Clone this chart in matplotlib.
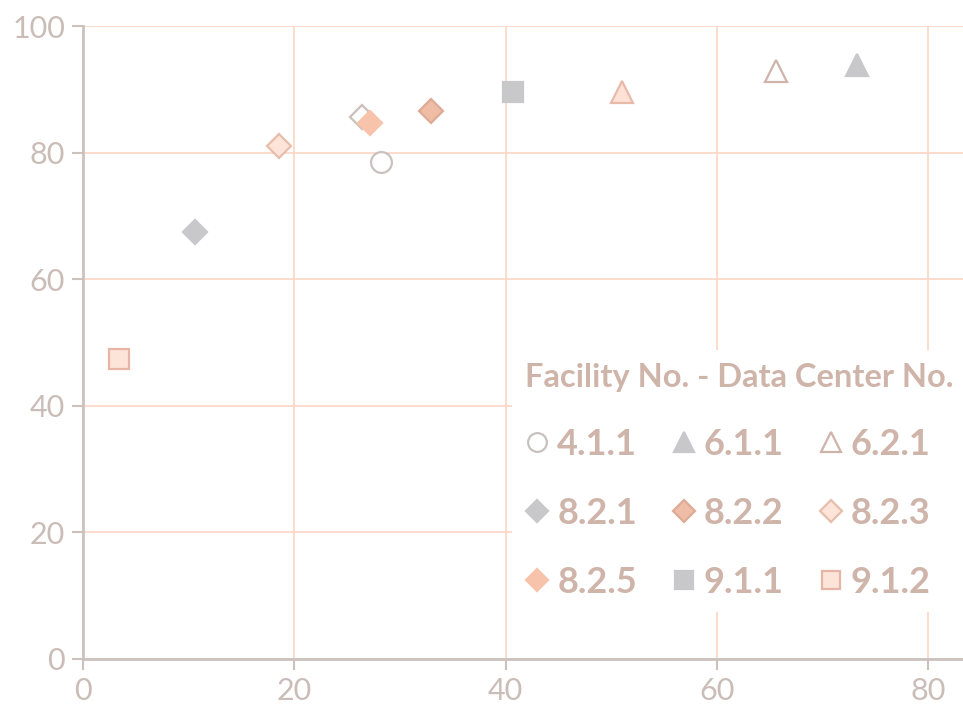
import numpy as np
import matplotlib.pyplot as plt

# facility / data center points (x = %, y = %)
labels = ["4.1.1", "6.1.1", "6.2.1", "6.2.2", "8.2.1", "8.2.2",
          "8.2.3", "8.2.4", "8.2.5", "9.1.1", "9.1.2"]
x_vals = [28.2, 73.3, 65.6, 51.0, 10.6, 32.9, 18.6, 26.4, 27.2, 40.7, 3.4]
y_vals = [78.5, 93.9, 92.9, 89.6, 67.5, 86.6, 81.0, 85.6, 84.6, 89.6, 47.4]

x_ticks = [0, 20, 40, 60, 80]
y_ticks = [0, 20, 40, 60, 80, 100]

# marker, face, edge, size
styles = {
    "4.1.1": ("o", "white", "#c9c1be", 15),
    "6.1.1": ("^", "#c8c8ca", "#c8c8ca", 16),
    "6.2.1": ("^", "white", "#cdb3a9", 16),
    "6.2.2": ("^", "#fde1d5", "#e8bba9", 16),
    "8.2.1": ("D", "#c8c8ca", "#c8c8ca", 12),
    "8.2.2": ("D", "#efbca5", "#ddaa95", 12),
    "8.2.3": ("D", "#fde4d9", "#e7bdab", 12),
    "8.2.4": ("D", "white", "#cdbfba", 12),
    "8.2.5": ("D", "#f8c3ab", "#f8c3ab", 12),
    "9.1.1": ("s", "#c8c8ca", "#c8c8ca", 15),
    "9.1.2": ("s", "#fde4d9", "#e6b5a5", 15),
}

grid_col = "#fdd8c8"
axis_col = "#cbc2be"
text_col = "#cabdb8"
legend_col = "#cfb4aa"
font = ["Lato", "DejaVu Sans"]

fig = plt.figure(figsize=(9.63, 7.07), dpi=100)
ax = fig.add_axes([83 / 963, 48 / 707, 880 / 963, 633 / 707])

handles = {}
for lab, xv, yv in zip(labels, x_vals, y_vals):
    m, fc, ec, ms = styles[lab]
    h, = ax.plot([xv], [yv], linestyle="none", marker=m, markersize=ms,
                 markerfacecolor=fc, markeredgecolor=ec, markeredgewidth=1.6,
                 label=lab, zorder=3)
    handles[lab] = h

ax.set_xlim(0, 880 / 10.5625)
ax.set_ylim(0, 100)
ax.set_xticks(x_ticks)
ax.set_yticks(y_ticks)
ax.grid(True, color=grid_col, linewidth=1.3, zorder=0)
ax.set_axisbelow(True)

for s in ["top", "right"]:
    ax.spines[s].set_visible(False)
for s in ["left", "bottom"]:
    ax.spines[s].set_color(axis_col)
    ax.spines[s].set_linewidth(2)
ax.tick_params(direction="out", length=8, width=1.5, color=axis_col,
               labelcolor=text_col, labelsize=22, pad=5)
for t in ax.get_xticklabels() + ax.get_yticklabels():
    t.set_family(font)

# row-major legend order for a column-major 4-column layout
# (the 4th column runs past the right edge, as in the original)
order = ["4.1.1", "8.2.1", "8.2.5", "6.1.1", "8.2.2", "9.1.1",
         "6.2.1", "8.2.3", "9.1.2", "6.2.2", "8.2.4"]
leg = ax.legend([handles[k] for k in order], order, ncol=4,
                loc="upper left", bbox_to_anchor=(0.4875, 0.488),
                title="Facility No. - Data Center No.", alignment="left",
                frameon=True, facecolor="white", edgecolor="none",
                framealpha=1, fancybox=False, borderaxespad=0,
                handlelength=0.7, handletextpad=0.2, columnspacing=0.95,
                labelspacing=1.0, borderpad=0.35, markerscale=0.9,
                prop={"family": font, "size": 26, "weight": "bold"})
leg.get_title().set_family(font)
leg.get_title().set_size(23.5)
leg.get_title().set_weight("bold")
leg.get_title().set_color(legend_col)
for t in leg.get_texts():
    t.set_color(legend_col)
leg.set_zorder(5)

fig.savefig("out.png", dpi=100)
